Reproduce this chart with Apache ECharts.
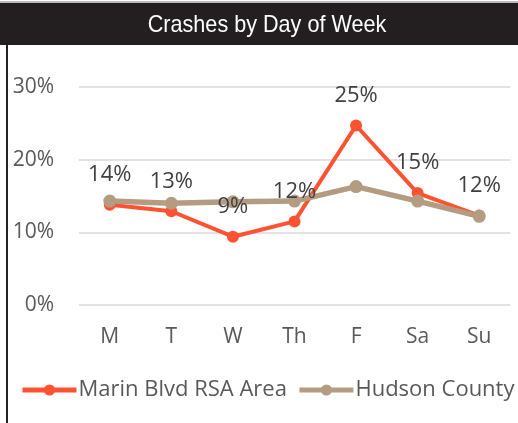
<!DOCTYPE html>
<html>
<head>
<meta charset="utf-8">
<script src="https://cdn.jsdelivr.net/npm/echarts@6/dist/echarts.min.js"></script>
<style>
  html, body { margin: 0; padding: 0; background: #fff; }
  #chart { width: 518px; height: 423px; }
</style>
</head>
<body>
<div id="chart"></div>
<script>
var days = ['M', 'T', 'W', 'Th', 'F', 'Sa', 'Su'];
var marin = [13.8, 12.9, 9.4, 11.5, 24.7, 15.4, 12.3];
var hudson = [14.3, 14.0, 14.2, 14.3, 16.3, 14.3, 12.2];
var yTicks = [0, 10, 20, 30];

var txtFont = '"Open Sans", sans-serif';

var chart = echarts.init(document.getElementById('chart'));
chart.setOption({
  animation: false,
  backgroundColor: '#fff',
  graphic: [
    { type: 'rect', shape: { x: 0, y: 1, width: 518, height: 2 }, style: { fill: '#bbb' } },
    { type: 'rect', shape: { x: 0, y: 3, width: 518, height: 42 }, style: { fill: '#231f20' } },
    { type: 'rect', shape: { x: 6, y: 45, width: 2, height: 378 }, style: { fill: '#222' } },
    {
      type: 'text', x: 267, y: 25, scaleX: 0.9, originX: 0,
      style: {
        text: 'Crashes by Day of Week', fill: '#fff',
        align: 'center', verticalAlign: 'middle',
        font: '24px "Liberation Sans", sans-serif'
      }
    }
  ],
  grid: { left: 79, right: 8, top: 87, bottom: 118 },
  legend: {
    bottom: 22, left: 20, width: 500, padding: 0,
    itemWidth: 54, itemHeight: 14, itemGap: 10,
    lineStyle: { width: 5 },
    textStyle: { fontFamily: txtFont, fontSize: 22, color: '#595959', padding: [0, 0, 0, -3] },
    data: ['Marin Blvd RSA Area', 'Hudson County']
  },
  xAxis: {
    type: 'category', data: days,
    axisLine: { show: false }, axisTick: { show: false },
    axisLabel: { margin: 22, fontFamily: txtFont, fontSize: 21, color: '#595959' }
  },
  yAxis: {
    type: 'value', min: yTicks[0], max: yTicks[yTicks.length - 1], interval: 10,
    axisLabel: { margin: 25, fontFamily: txtFont, fontSize: 21, color: '#595959', formatter: '{value}%' },
    splitLine: { lineStyle: { color: '#d9d9d9', width: 1.5 } }
  },
  series: [
    {
      name: 'Marin Blvd RSA Area', type: 'line', data: marin,
      symbol: 'circle', symbolSize: 12,
      itemStyle: { color: '#ff5233' },
      lineStyle: { width: 4, color: '#ff5233' },
      label: {
        show: true, position: 'top', distance: 13,
        fontFamily: txtFont, fontSize: 22, color: '#404040',
        formatter: function (p) { return Math.round(p.value) + '%'; }
      }
    },
    {
      name: 'Hudson County', type: 'line', data: hudson,
      symbol: 'circle', symbolSize: 13,
      itemStyle: { color: '#b49c82' },
      lineStyle: { width: 5.5, color: '#b49c82' }
    }
  ]
});
</script>
</body>
</html>
